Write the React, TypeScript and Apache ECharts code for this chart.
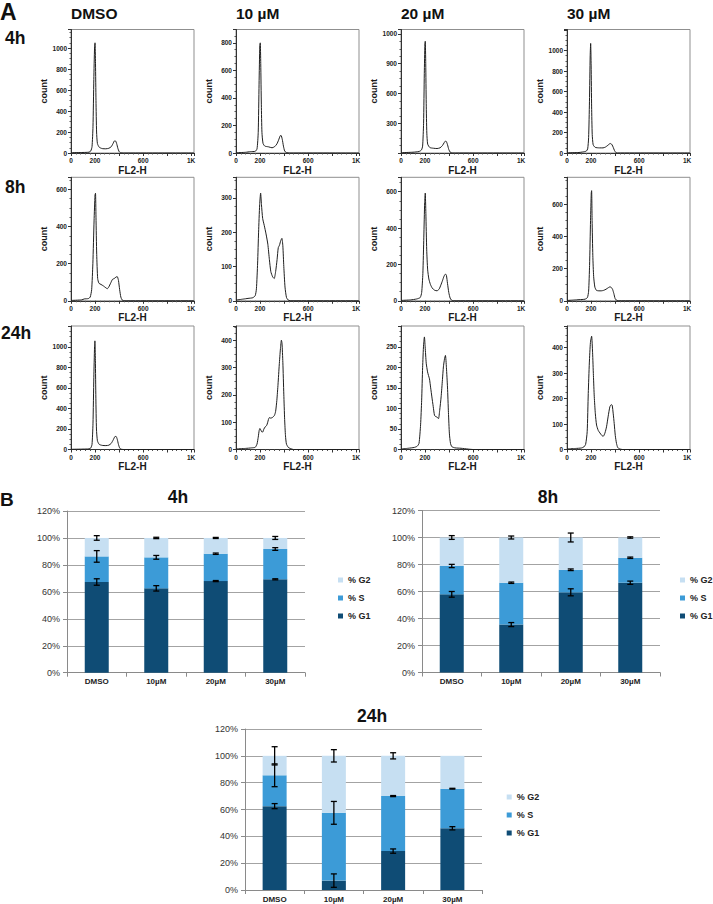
import React, { useEffect, useRef } from "react";
import * as echarts from "echarts";

// ---------- Panel A: flow cytometry histograms (FL2-H channel vs count) ----------
const conditions = ["DMSO", "10 µM", "20 µM", "30 µM"];
const timepoints = ["4h", "8h", "24h"];

const hist4hDMSO = [[0,3],[100,5],[150,8],[165,20],[175,60],[183,250],[190,700],[196,1000],[200,1050],[204,850],[208,500],[213,200],[220,90],[235,55],[260,42],[290,40],[315,45],[335,60],[350,90],[362,115],[370,115],[380,90],[390,45],[400,15],[412,3],[440,0],[1024,0]];
const hist4h10 = [[0,2],[80,5],[120,10],[160,12],[175,30],[185,150],[192,500],[198,780],[202,800],[206,650],[211,350],[216,150],[225,70],[240,50],[270,45],[300,38],[320,45],[340,65],[355,95],[368,125],[375,128],[385,100],[395,50],[405,15],[418,3],[450,0],[1024,0]];
const hist4h20 = [[0,3],[100,8],[150,15],[170,30],[180,70],[188,300],[194,800],[199,1100],[202,1126],[206,900],[210,500],[215,200],[222,90],[240,55],[270,48],[300,45],[325,52],[345,75],[360,105],[370,120],[378,115],[388,80],[398,35],[410,8],[425,0],[1024,0]];
const hist4h30 = [[0,2],[100,5],[130,10],[160,18],[172,40],[180,150],[187,500],[193,950],[197,1070],[201,850],[205,450],[210,180],[218,80],[235,55],[270,50],[300,50],[320,58],[340,75],[355,90],[365,92],[375,80],[385,55],[395,25],[407,5],[420,0],[1024,0]];

const hist8hDMSO = [[0,2],[90,5],[110,10],[145,12],[160,20],[172,60],[182,200],[192,430],[200,570],[204,579],[208,450],[214,250],[222,120],[232,95],[250,88],[270,80],[290,70],[302,65],[315,75],[330,95],[345,115],[360,120],[375,128],[385,130],[395,110],[405,60],[415,20],[425,5],[440,0],[1024,0]];
const hist8h10 = [[0,2],[60,5],[100,7],[140,9],[160,15],[170,35],[180,110],[188,200],[197,280],[205,314],[212,280],[222,240],[235,220],[250,195],[265,165],[278,120],[290,85],[305,70],[318,65],[330,85],[342,120],[352,155],[362,162],[372,175],[382,182],[390,160],[398,100],[408,40],[420,10],[432,3],[450,0],[1024,0]];
const hist8h20 = [[0,2],[80,5],[130,10],[160,18],[172,45],[182,150],[190,350],[197,540],[202,592],[207,480],[214,280],[222,170],[232,120],[245,90],[260,70],[280,58],[300,55],[318,65],[332,87],[345,110],[358,135],[370,147],[378,140],[387,96],[398,45],[409,15],[420,4],[440,0],[1024,0]];
const hist8h30 = [[0,2],[60,5],[100,7],[150,10],[170,20],[180,60],[188,220],[196,500],[202,670],[205,685],[209,500],[215,280],[222,150],[232,85],[245,65],[265,62],[285,62],[305,65],[325,72],[345,82],[358,87],[370,82],[380,70],[390,45],[400,15],[410,5],[425,0],[1024,0]];

const hist24hDMSO = [[0,2],[100,4],[150,6],[165,15],[175,50],[183,250],[190,700],[196,1000],[199,1059],[203,870],[207,500],[212,200],[220,85],[235,50],[260,40],[290,38],[315,42],[335,60],[352,95],[365,125],[375,128],[385,100],[395,50],[405,15],[415,3],[440,0],[1024,0]];
const hist24h10 = [[0,2],[80,4],[130,6],[160,8],[175,20],[185,45],[193,70],[199,77],[206,72],[214,65],[222,64],[232,75],[243,83],[255,88],[263,98],[270,110],[278,117],[290,115],[305,118],[320,125],[330,140],[340,180],[350,240],[360,310],[370,370],[378,401],[383,390],[390,320],[398,203],[405,110],[412,50],[420,20],[435,8],[450,4],[480,0],[1024,0]];
const hist24h20 = [[0,1],[60,3],[110,5],[135,8],[150,15],[163,60],[172,120],[180,200],[188,255],[195,274],[201,250],[210,210],[221,189],[229,180],[237,172],[247,150],[257,128],[268,105],[279,83],[290,80],[300,79],[312,75],[322,95],[334,128],[345,170],[353,201],[362,220],[370,229],[378,200],[387,152],[395,90],[403,38],[412,15],[423,7],[450,4],[500,3],[560,1],[600,0],[1024,0]];
const hist24h30 = [[0,2],[70,4],[120,6],[140,10],[155,20],[168,70],[177,220],[186,340],[195,420],[205,445],[213,380],[220,290],[227,207],[236,140],[246,96],[260,75],[274,65],[290,55],[302,52],[316,65],[329,89],[342,128],[357,168],[368,176],[376,174],[385,140],[393,102],[402,55],[412,24],[422,8],[435,3],[460,0],[1024,0]];

const histXLabels: [number, string][] = [[0, "0"], [200, "200"], [600, "600"], [1000, "1K"]];
const histYMax = [
  [1177, 897, 1245, 1206],
  [665, 360, 679, 768],
  [1204, 453, 300.6, 485],
];
const histYInterval = [
  [200, 200, 300, 200],
  [200, 100, 200, 200],
  [200, 100, 50, 100],
];
const histYLabels: [number, string][][][] = [
  [
    [[0,"0"],[200,"200"],[400,"400"],[600,"600"],[800,"800"],[1000,"1000"]],
    [[0,"0"],[200,"200"],[400,"400"],[600,"600"],[800,"800"]],
    [[300,"300"],[600,"600"],[900,"900"],[1200,"1000"]],
    [[0,"0"],[200,"200"],[400,"400"],[600,"600"],[800,"800"],[1000,"1000"]],
  ],
  [
    [[0,"0"],[200,"200"],[400,"400"],[600,"600"]],
    [[0,"0"],[100,"100"],[200,"200"],[300,"300"]],
    [[0,"0"],[200,"200"],[400,"400"],[600,"600"]],
    [[0,"0"],[200,"200"],[400,"400"],[600,"600"]],
  ],
  [
    [[0,"0"],[200,"200"],[400,"400"],[600,"600"],[800,"800"],[1000,"1000"]],
    [[0,"0"],[100,"100"],[200,"200"],[300,"300"],[400,"400"]],
    [[0,"0"],[50,"50"],[100,"100"],[150,"150"],[200,"200"],[250,"250"]],
    [[0,"0"],[100,"100"],[200,"200"],[300,"300"],[400,"400"]],
  ],
];
const histData = [
  [hist4hDMSO, hist4h10, hist4h20, hist4h30],
  [hist8hDMSO, hist8h10, hist8h20, hist8h30],
  [hist24hDMSO, hist24h10, hist24h20, hist24h30],
];

// ---------- Panel B: cell-cycle phase distribution (%) ----------
const barCategories = ["DMSO", "10µM", "20µM", "30µM"];
const phaseNames = ["% G1", "% S", "% G2"];
const legendOrder = ["% G2", "% S", "% G1"];

const g1_4h = [67.3, 62.6, 68, 69.3];
const s_4h = [19, 23, 20.3, 22.5];
const g2_4h = [13.7, 14.4, 11.7, 8.2];
const errG1_4h = [2.4, 2, 0.4, 0.4];
const errS_4h = [4.3, 1.4, 0.5, 1];
const errG2_4h = [1.7, 0.5, 0.4, 1.1];

const g1_8h = [57.9, 35.5, 59.4, 66.5];
const s_8h = [21, 31, 16.7, 18.5];
const g2_8h = [21.1, 33.5, 23.9, 15];
const errG1_8h = [2.1, 1.5, 2.6, 1.2];
const errS_8h = [1.2, 0.5, 0.6, 0.5];
const errG2_8h = [1.4, 1.1, 3.3, 0.5];

const g1_24h = [62.5, 7, 29, 46];
const s_24h = [23, 50.5, 41, 29.5];
const g2_24h = [14.5, 42.5, 30, 24.5];
const errG1_24h = [1.9, 5, 1.6, 1.2];
const errS_24h = [8.5, 8.5, 0.4, 0.3];
const errG2_24h = [6.8, 4.6, 2.3, 0];

const barSets = [
  { title: "4h", g1: g1_4h, s: s_4h, g2: g2_4h, e1: errG1_4h, es: errS_4h, e2: errG2_4h },
  { title: "8h", g1: g1_8h, s: s_8h, g2: g2_8h, e1: errG1_8h, es: errS_8h, e2: errG2_8h },
  { title: "24h", g1: g1_24h, s: s_24h, g2: g2_24h, e1: errG1_24h, es: errS_24h, e2: errG2_24h },
];

const FONT = "'Liberation Sans', Arial, Helvetica, sans-serif";
const C_G1 = "#0f4c75";
const C_S = "#3c9bd7";
const C_G2 = "#c6dff2";

function buildOption() {
  const grid: any[] = [];
  const xAxis: any[] = [];
  const yAxis: any[] = [];
  const series: any[] = [];
  const graphic: any[] = [];

  const hLeft = [71, 236, 401, 567];
  const hTop = [29.5, 177.3, 326];
  const labelFmt = (list: [number, string][]) => (v: number) => {
    const f = list.find((l) => Math.abs(l[0] - v) < 1e-6);
    return f ? f[1] : "";
  };

  for (let r = 0; r < 3; r++) {
    for (let c = 0; c < 4; c++) {
      const idx = r * 4 + c;
      grid.push({
        left: hLeft[c], top: hTop[r], width: 123, height: 123.5,
        show: true, borderColor: "#8f8f8f", borderWidth: 1, backgroundColor: "transparent",
        containLabel: false,
      });
      xAxis.push({
        type: "value", gridIndex: idx, min: 0, max: 1024, interval: 200,
        name: "FL2-H", nameLocation: "middle", nameGap: 12,
        nameTextStyle: { fontFamily: FONT, fontSize: 10, fontWeight: "bold", color: "#1a1a1a" },
        axisLine: { show: true, onZero: false, lineStyle: { color: "#333", width: 1 } },
        axisTick: { show: true, inside: false, length: 3, lineStyle: { color: "#333" } },
        minorTick: { show: true, splitNumber: 5, length: 1.5, lineStyle: { color: "#555" } },
        splitLine: { show: false },
        axisLabel: {
          margin: 4, fontFamily: FONT, fontSize: 6.5, fontWeight: "bold", color: "#222",
          formatter: labelFmt(histXLabels), showMaxLabel: true, showMinLabel: true,
        },
      });
      yAxis.push({
        type: "value", gridIndex: idx, min: 0, max: histYMax[r][c], interval: histYInterval[r][c],
        name: "count", nameLocation: "middle", nameGap: 23,
        nameTextStyle: { fontFamily: FONT, fontSize: 9, fontWeight: "bold", color: "#1a1a1a" },
        axisLine: { show: true, onZero: false, lineStyle: { color: "#333", width: 1 } },
        axisTick: { show: true, inside: false, length: 3, lineStyle: { color: "#333" } },
        minorTick: { show: true, splitNumber: 4, length: 1.5, lineStyle: { color: "#555" } },
        splitLine: { show: false },
        axisLabel: {
          margin: 4, fontFamily: FONT, fontSize: 6.5, fontWeight: "bold", color: "#222",
          formatter: labelFmt(histYLabels[r][c]),
        },
      });
      series.push({
        type: "line", xAxisIndex: idx, yAxisIndex: idx, data: histData[r][c],
        showSymbol: false, smooth: 0.2, lineStyle: { color: "#1f1f1f", width: 1 },
        silent: true,
      });
    }
  }

  // condition headers and row labels
  conditions.forEach((t, c) => {
    graphic.push({
      type: "text", x: hLeft[c], y: 13,
      style: { text: t, font: `bold 15.5px ${FONT}`, fill: "#111", textVerticalAlign: "middle", textAlign: "left" },
    });
  });
  const rowY = [37.5, 186.5, 332.5];
  const rowX = [5, 5, 1];
  timepoints.forEach((t, r) => {
    graphic.push({
      type: "text", x: rowX[r], y: rowY[r],
      style: { text: t, font: `bold 17.5px ${FONT}`, fill: "#111", textVerticalAlign: "middle", textAlign: "left" },
    });
  });
  graphic.push({
    type: "text", x: 0, y: 12,
    style: { text: "A", font: `bold 23px ${FONT}`, fill: "#111", textVerticalAlign: "middle", textAlign: "left" },
  });
  graphic.push({
    type: "text", x: 0, y: 499,
    style: { text: "B", font: `bold 19px ${FONT}`, fill: "#111", textVerticalAlign: "middle", textAlign: "left" },
  });

  // bar charts
  const bGrids = [
    { left: 67, top: 511, width: 238, height: 161.7, titleX: 178, titleY: 496.5, legX: 333, legY: 570.5 },
    { left: 422, top: 510.5, width: 238, height: 162, titleX: 548, titleY: 496.5, legX: 675, legY: 570.5 },
    { left: 245, top: 729, width: 237, height: 161, titleX: 372, titleY: 715.5, legX: 501.7, legY: 787.5 },
  ];
  const legends: any[] = [];

  barSets.forEach((b, k) => {
    const gi = 12 + k;
    const g = bGrids[k];
    grid.push({ left: g.left, top: g.top, width: g.width, height: g.height, containLabel: false });
    xAxis.push({
      type: "category", gridIndex: gi, data: barCategories,
      axisLine: { show: true, lineStyle: { color: "#8a8a8a", width: 1 } },
      axisTick: { show: true, length: 4, alignWithLabel: false, lineStyle: { color: "#8a8a8a" } },
      axisLabel: { margin: 5, fontFamily: FONT, fontSize: 8, fontWeight: "bold", color: "#222", interval: 0 },
      splitLine: { show: false },
    });
    yAxis.push({
      type: "value", gridIndex: gi, min: 0, max: 120, interval: 20,
      axisLine: { show: true, lineStyle: { color: "#8a8a8a", width: 1 } },
      axisTick: { show: true, length: 4, lineStyle: { color: "#8a8a8a" } },
      splitLine: { show: true, lineStyle: { color: "#a3a3a3", width: 1 } },
      axisLabel: { margin: 7, fontFamily: FONT, fontSize: 9, color: "#333", formatter: "{value}%" },
    });
    const vals = [b.g1, b.s, b.g2];
    const cols = [C_G1, C_S, C_G2];
    phaseNames.forEach((nm, p) => {
      series.push({
        name: nm, type: "bar", stack: "st" + k, xAxisIndex: gi, yAxisIndex: gi,
        data: vals[p], barWidth: 24, itemStyle: { color: cols[p] }, silent: true,
      });
    });
    const errData: any[] = [];
    barCategories.forEach((cat, i) => {
      const top1 = b.g1[i];
      const top2 = b.g1[i] + b.s[i];
      const top3 = b.g1[i] + b.s[i] + b.g2[i];
      errData.push([cat, top1, b.e1[i]]);
      errData.push([cat, top2, b.es[i]]);
      errData.push([cat, top3, b.e2[i]]);
    });
    series.push({
      type: "custom", name: "err" + k, xAxisIndex: gi, yAxisIndex: gi, data: errData, z: 10, silent: true,
      renderItem: (params: any, api: any) => {
        const x = api.value(0);
        const c = api.value(1);
        const e = api.value(2);
        if (!e) return null;
        const top = api.coord([x, c + e]);
        const bot = api.coord([x, c - e]);
        const hw = 3;
        const st = { stroke: "#000", lineWidth: 1.3 };
        return {
          type: "group",
          children: [
            { type: "line", shape: { x1: top[0], y1: top[1], x2: bot[0], y2: bot[1] }, style: st },
            { type: "line", shape: { x1: top[0] - hw, y1: top[1], x2: top[0] + hw, y2: top[1] }, style: st },
            { type: "line", shape: { x1: bot[0] - hw, y1: bot[1], x2: bot[0] + hw, y2: bot[1] }, style: st },
          ],
        };
      },
    });
    legends.push({
      data: legendOrder, orient: "vertical", left: g.legX, top: g.legY,
      itemWidth: 5, itemHeight: 5, itemGap: 9, icon: "rect", selectedMode: false,
      textStyle: { fontFamily: FONT, fontSize: 9, fontWeight: "bold", color: "#222" },
    });
    graphic.push({
      type: "text", x: g.titleX, y: g.titleY,
      style: { text: b.title, font: `bold 17.5px ${FONT}`, fill: "#111", textVerticalAlign: "middle", textAlign: "center" },
    });
  });

  return {
    animation: false,
    backgroundColor: "#fff",
    textStyle: { fontFamily: FONT },
    grid, xAxis, yAxis, series, legend: legends, graphic,
  };
}

export default function App() {
  const ref = useRef<HTMLDivElement>(null);
  useEffect(() => {
    if (!ref.current) return;
    const chart = echarts.init(ref.current, null, { renderer: "svg" });
    chart.setOption(buildOption() as any);
    return () => chart.dispose();
  }, []);
  return (
    <div
      ref={ref}
      style={{ position: "absolute", left: 0, top: 0, width: 713, height: 904, background: "#fff" }}
    />
  );
}
